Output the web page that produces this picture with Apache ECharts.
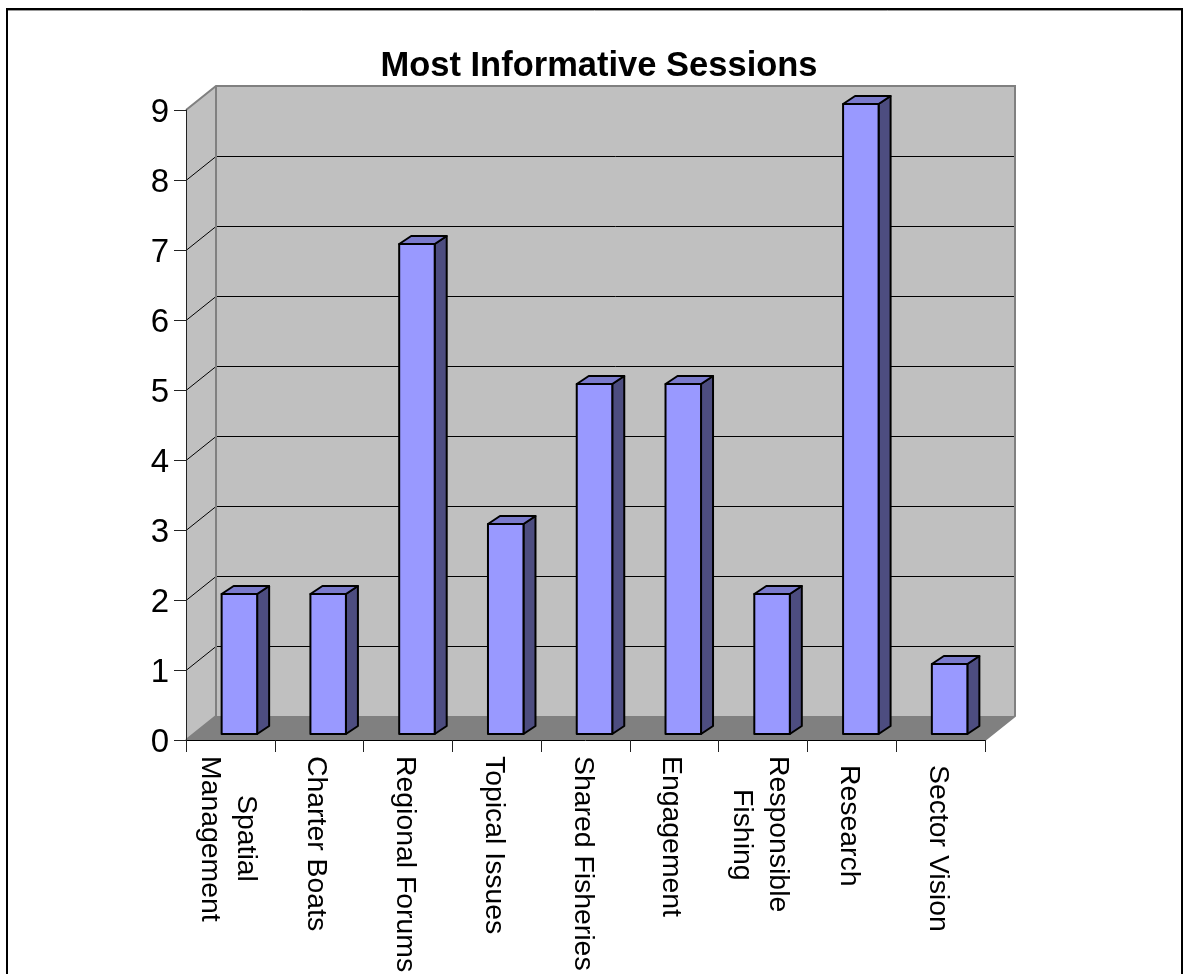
<!DOCTYPE html>
<html>
<head>
<meta charset="utf-8">
<style>html,body{margin:0;padding:0;background:#fff;overflow:hidden}#chart{width:1183px;height:974px}</style>
<script src="https://cdn.jsdelivr.net/npm/echarts@6/dist/echarts.min.js"></script>
</head>
<body>
<div id="chart"></div>
<script>
const chartTitle = 'Most Informative Sessions';
const categories = ['Spatial\nManagement', 'Charter Boats', 'Regional Forums', 'Topical Issues', 'Shared Fisheries', 'Engagement', 'Responsible\nFishing', 'Research', 'Sector Vision'];
const sessionCounts = [2, 2, 7, 3, 5, 5, 2, 9, 1];
const valueTicks = [0, 1, 2, 3, 4, 5, 6, 7, 8, 9];

// Oblique projection of the box: pixel offsets from the front plane.
const WALL_DX = 30, WALL_DY = -24;
const BAR_DX = 9, BAR_DY = -6, BAR_DEPTH_X = 12, BAR_DEPTH_Y = -8, BAR_RATIO = 0.4;

// Left indent of each label line along the text direction.
const lineIndent = {'Spatial': 39, 'Fishing': 33, 'Research': 9, 'Sector Vision': 9};

const FONT = '"Liberation Sans", Arial, sans-serif';
const chart = echarts.init(document.getElementById('chart'), null, {renderer: 'canvas'});

function poly(points, fill) {
  return {type: 'polygon', shape: {points}, style: {fill, lineWidth: 0}};
}
function segs(points, stroke, lineWidth) {
  return {type: 'polyline', shape: {points}, style: {fill: null, stroke, lineWidth}};
}

function renderBox(params, api) {
  const cs = params.coordSys;
  const L = cs.x, R = cs.x + cs.width;
  const y0 = api.coord([0, valueTicks[0]])[1];
  const yT = api.coord([0, valueTicks[valueTicks.length - 1]])[1];
  const bx = L + WALL_DX, brx = R + WALL_DX;
  const children = [
    poly([[L, y0], [bx, y0 + WALL_DY], [bx, yT + WALL_DY], [L, yT]], '#c0c0c0'),
    poly([[bx, y0 + WALL_DY], [brx, y0 + WALL_DY], [brx, yT + WALL_DY], [bx, yT + WALL_DY]], '#c0c0c0'),
    poly([[L, y0], [bx, y0 + WALL_DY], [brx, y0 + WALL_DY], [R, y0]], '#808080')
  ];
  valueTicks.slice(1, -1).forEach(v => {
    // half-pixel offset keeps the one-pixel rules crisp
    const y = api.coord([0, v])[1] + 0.5;
    children.push(segs([[L, y], [bx, y + WALL_DY], [brx, y + WALL_DY]], '#000', 1));
  });
  children.push(segs([[L, yT], [bx, yT + WALL_DY], [brx, yT + WALL_DY], [brx, y0 + WALL_DY], [R, y0]], '#808080', 2));
  children.push(segs([[bx, yT + WALL_DY], [bx, y0 + WALL_DY], [L, y0]], '#808080', 2));
  return {type: 'group', children};
}

function renderBar(params, api) {
  const p0 = api.coord([api.value(0), 0]);
  const p1 = api.coord([api.value(0), api.value(1)]);
  const w = api.size([1, 0])[0] * BAR_RATIO;
  const xl = p0[0] - w / 2 + BAR_DX, xr = xl + w;
  const yb = p0[1] + BAR_DY, yt = p1[1] + BAR_DY;
  const dx = BAR_DEPTH_X, dy = BAR_DEPTH_Y;
  const edge = {stroke: '#000', lineWidth: 2, lineJoin: 'round'};
  const face = (pts, fill) => ({type: 'polygon', shape: {points: pts}, style: Object.assign({fill}, edge)});
  return {type: 'group', children: [
    face([[xr, yb], [xr + dx, yb + dy], [xr + dx, yt + dy], [xr, yt]], '#4d4d80'),
    face([[xl, yt], [xr, yt], [xr + dx, yt + dy], [xl + dx, yt + dy]], '#7a7acc'),
    face([[xl, yb], [xr, yb], [xr, yt], [xl, yt]], '#9999ff')
  ]};
}

// Each line of a category label becomes a rich token so it can carry its own indent.
const LABEL_SIZE = 28.4, LABEL_LINE = 36;
const labelStyle = {fontFamily: FONT, fontSize: LABEL_SIZE, color: '#000', lineHeight: LABEL_LINE};
const indentKeys = Object.keys(lineIndent);
const labelRich = {base: Object.assign({}, labelStyle)};
indentKeys.forEach((k, i) => {
  labelRich['in' + i] = Object.assign({padding: [0, 0, 0, lineIndent[k]]}, labelStyle);
});
function formatCategory(value) {
  return value.split('\n').map(line => {
    const i = indentKeys.indexOf(line);
    return '{' + (i >= 0 ? 'in' + i : 'base') + '|' + line + '}';
  }).join('\n');
}

chart.setOption({
  animation: false,
  backgroundColor: '#fff',
  title: {
    text: chartTitle, left: 594, top: 44, textAlign: 'center',
    textStyle: {fontFamily: FONT, fontSize: 34.5, fontWeight: 'bold', color: '#000'}
  },
  // Long rotated labels run off the page; the plot area must stay where it is.
  grid: {left: 186, right: 198, top: 110, bottom: 234, containLabel: false, outerBoundsMode: 'none'},
  xAxis: {
    type: 'category', data: categories, z: 5,
    axisLine: {lineStyle: {color: '#000', width: 1}},
    axisTick: {show: true, length: 12, alignWithLabel: false, lineStyle: {color: '#222', width: 1}},
    axisLabel: {
      interval: 0, rotate: -90, margin: 16, align: 'left', verticalAlign: 'middle',
      padding: [6, 0, 0, 0], hideOverlap: false,
      fontFamily: FONT, fontSize: LABEL_SIZE, color: '#000', lineHeight: LABEL_LINE,
      formatter: formatCategory, rich: labelRich
    }
  },
  yAxis: {
    type: 'value', min: 0, max: 9, interval: 1, z: 5,
    splitLine: {show: false},
    axisLine: {show: true, lineStyle: {color: '#222', width: 1}},
    axisTick: {show: true, length: 12, lineStyle: {color: '#222', width: 1}},
    axisLabel: {
      margin: 17, align: 'right', verticalAlign: 'middle',
      formatter: v => '{n|' + v + '}',
      // extra room above each digit nudges it down onto its tick
      rich: {n: {fontFamily: FONT, fontSize: 33, color: '#000', padding: [5, 0, 0, 0]}}
    }
  },
  series: [
    {type: 'custom', name: 'box', z: 1, silent: true, coordinateSystem: 'cartesian2d', renderItem: renderBox, data: [[0, 0]]},
    {type: 'custom', name: 'Sessions', z: 6, coordinateSystem: 'cartesian2d', renderItem: renderBar,
     encode: {x: 0, y: 1}, data: sessionCounts.map((v, i) => [i, v])}
  ],
  graphic: [
    {type: 'rect', z: 10, silent: true, shape: {x: 7, y: 9, width: 1175, height: 1000}, style: {fill: null, stroke: '#000', lineWidth: 2}},
    {type: 'line', z: 10, silent: true, shape: {x1: 8, y1: 10.5, x2: 1181, y2: 10.5}, style: {stroke: '#999', lineWidth: 1}}
  ]
});
</script>
</body>
</html>
